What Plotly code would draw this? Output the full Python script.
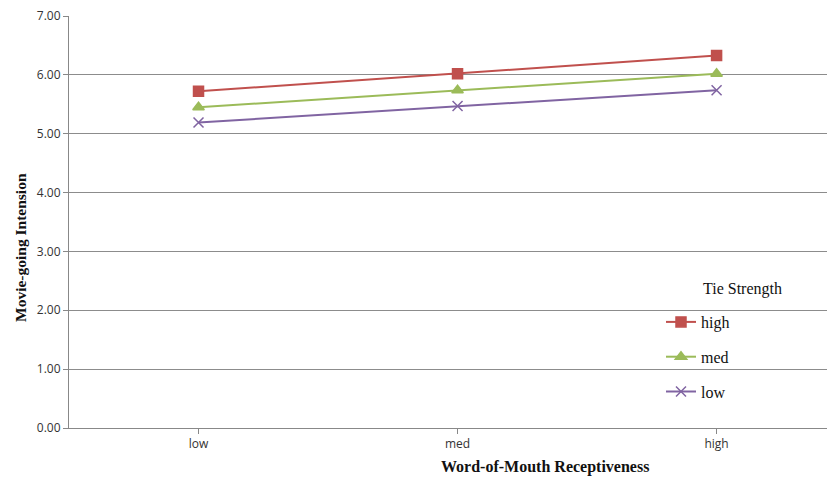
import plotly.graph_objects as go

categories = ["low", "med", "high"]
series_names = ["high", "med", "low"]
high_vals = [5.72, 6.02, 6.33]
med_vals = [5.45, 5.74, 6.02]
low_vals = [5.19, 5.47, 5.74]
y_ticks = [0, 1, 2, 3, 4, 5, 6, 7]
y_tick_labels = ["%.2f" % v for v in y_ticks]

colors = {"high": "#C0504D", "med": "#9BBB59", "low": "#8064A2"}
symbols = {"high": "square", "med": "triangle-up", "low": "x-thin-open"}
sizes = {"high": 10, "med": 10, "low": 10}
values = {"high": high_vals, "med": med_vals, "low": low_vals}

SERIF = "Liberation Serif"

fig = go.Figure()
for name in series_names:
    fig.add_trace(go.Scatter(
        x=[0, 1, 2], y=values[name], name=name, mode="lines+markers",
        legendgroup=name,
        line=dict(color=colors[name], width=2),
        marker=dict(symbol=symbols[name], size=sizes[name], color=colors[name],
                    line=dict(color=colors[name], width=1.5)),
    ))

# screen-pixel helpers (page body has 8px margin; plot area 69..843 x 16..428)
PL, PR, PT, PB = 69, 843, 16, 428
def px(xs):
    return (xs - PL) / (PR - PL)
def py(ys):
    return (PB - ys) / (PB - PT)

fig.update_layout(
    width=835, height=477,
    margin=dict(l=61, r=0, t=8, b=57),
    paper_bgcolor="white", plot_bgcolor="white",
    showlegend=True,
    legend=dict(x=px(661), y=py(305), xanchor="left", yanchor="top",
                bgcolor="rgba(0,0,0,0)", traceorder="grouped", tracegroupgap=11,
                font=dict(family=SERIF, size=16, color="#111"),
                itemwidth=30),
    xaxis=dict(range=[-0.5, 2.488], tickmode="array", tickvals=[0, 1, 2],
               ticktext=categories, showgrid=False, showline=True,
               linecolor="#888", linewidth=1, ticks="outside", tickson="boundaries",
               ticklen=5, tickcolor="#888", ticklabeloverflow="allow",
               tickfont=dict(family="Open Sans", size=12, color="#333"), zeroline=False),
    yaxis=dict(range=[0, 7], tickmode="array", tickvals=y_ticks, ticktext=y_tick_labels,
               showgrid=True, gridcolor="#8c8c8c", gridwidth=1, showline=True,
               linecolor="#888", ticks="outside", ticklen=5, tickcolor="#888",
               ticklabeloverflow="allow",
               tickfont=dict(family="Open Sans", size=12, color="#333"), zeroline=False),
    annotations=[
        dict(text="<b>Word-of-Mouth Receptiveness</b>", x=px(545), y=py(467),
             xref="paper", yref="paper", showarrow=False,
             xanchor="center", yanchor="middle",
             font=dict(family=SERIF, size=16, color="#111")),
        dict(text="<b>Movie-going Intension</b>", x=px(20), y=py(248),
             xref="paper", yref="paper", showarrow=False, textangle=-90,
             xanchor="center", yanchor="middle",
             font=dict(family=SERIF, size=15.5, color="#111")),
        dict(text="Tie Strength", x=px(742), y=py(289),
             xref="paper", yref="paper", showarrow=False,
             xanchor="center", yanchor="middle",
             font=dict(family=SERIF, size=16, color="#111")),
    ],
)

fig.write_html("out.html",
               post_script="document.documentElement.style.overflow='hidden';")
